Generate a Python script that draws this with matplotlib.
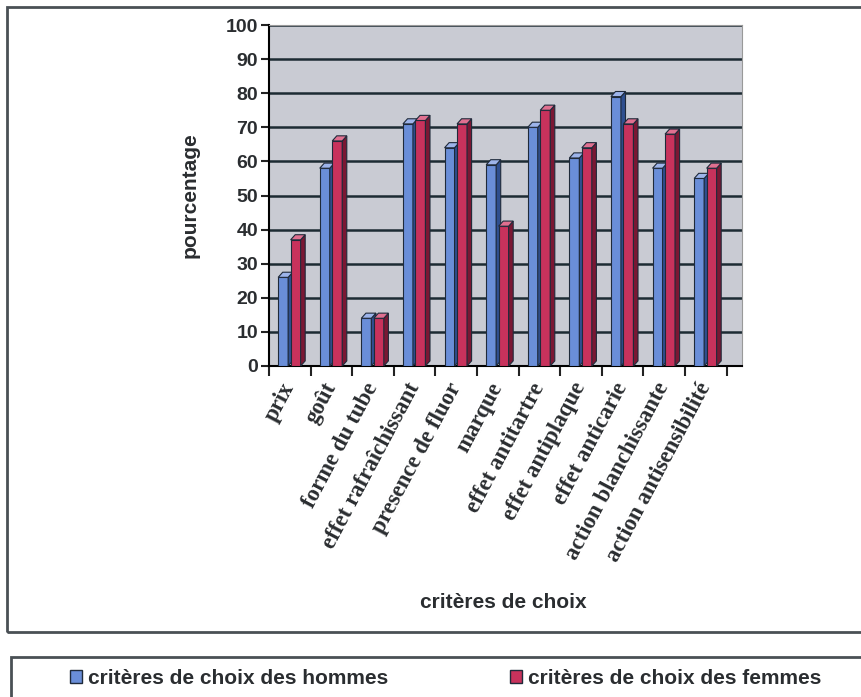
import matplotlib.pyplot as plt
import matplotlib.patches as mpatches
import numpy as np

categories = [
    "prix",
    "goût",
    "forme du tube",
    "effet rafraîchissant",
    "presence de fluor",
    "marque",
    "effet antitartre",
    "effet antiplaque",
    "effet anticarie",
    "action blanchissante",
    "action antisensibilité",
]
hommes = [26, 58, 14, 71, 64, 59, 70, 61, 79, 58, 55]
femmes = [37, 66, 14, 72, 71, 41, 75, 64, 71, 68, 58]
series_names = ["critères de choix des hommes", "critères de choix des femmes"]

TXT = "#2a2d30"


def draw_bars(ax, xs, vals, width, front, side, top):
    # bars with a small fake 3D depth, like the old office chart
    dx, dy = 0.11, 1.5
    ax.bar(xs, vals, width=width, color=front, edgecolor="#1f2a3a", linewidth=0.8, zorder=3)
    for x, v in zip(xs, vals):
        x0, x1 = x - width / 2, x + width / 2
        ax.fill([x1, x1 + dx, x1 + dx, x1], [0, dy, v + dy, v],
                color=side, edgecolor="#1f2a3a", linewidth=0.8, zorder=3)
        ax.fill([x0, x0 + dx, x1 + dx, x1], [v, v + dy, v + dy, v],
                color=top, edgecolor="#1f2a3a", linewidth=0.8, zorder=3)


def main():
    fig = plt.figure(figsize=(8.62, 6.97), dpi=100)
    fig.patch.set_facecolor("white")

    # outer frames
    fig.patches.append(mpatches.Rectangle((7 / 862, 1 - 632 / 697), 1.2, 625 / 697,
                                          transform=fig.transFigure, fill=False,
                                          edgecolor="#4a5055", linewidth=2))
    fig.patches.append(mpatches.Rectangle((11 / 862, -0.1), 1.2, 0.1 + 40 / 697,
                                          transform=fig.transFigure, fill=False,
                                          edgecolor="#4a5055", linewidth=2))

    ax = fig.add_axes([269 / 862, 331 / 697, 473 / 862, 341 / 697])
    ax.set_facecolor("#c9cbd3")

    x = np.arange(len(categories))
    w = 0.24
    draw_bars(ax, x - 0.16, hommes, w, "#6a8ed8", "#2f4f8f", "#9db4ea")
    draw_bars(ax, x + 0.14, femmes, w, "#c8325c", "#7a1733", "#e07090")

    ax.set_xlim(-0.5, 10.87)
    ax.set_ylim(0, 100)
    ax.set_yticks(range(0, 101, 10))
    ax.yaxis.grid(True, color="#1c2b33", linewidth=1.8, zorder=1)
    ax.set_axisbelow(True)

    ax.set_xticks(np.arange(-0.5, 11, 1))
    ax.set_xticklabels([])
    ax.set_xticks(x, minor=True)
    ax.set_xticklabels(categories, minor=True, rotation=62, ha="right",
                       va="center", rotation_mode="anchor",
                       fontfamily="Liberation Serif", fontweight="bold", fontsize=16.5,
                       color=TXT)
    ax.tick_params(axis="x", which="minor", length=0, pad=13)
    ax.tick_params(axis="x", which="major", length=7, width=1.5, color="#222222")
    ax.tick_params(axis="y", length=6, width=1.5, color="#222222", pad=2)
    for lab in ax.get_yticklabels():
        lab.set_fontfamily("Liberation Sans")
        lab.set_fontweight("bold")
        lab.set_fontsize(14)
        lab.set_color(TXT)

    ax.spines["left"].set_linewidth(1.5)
    ax.spines["bottom"].set_linewidth(1.5)
    ax.spines["top"].set_color("#999999")
    ax.spines["right"].set_color("#999999")

    ax.set_ylabel("pourcentage", fontfamily="Liberation Sans", fontweight="bold",
                  fontsize=15, color=TXT)
    ax.yaxis.set_label_coords(-0.147, 0.5)
    fig.text(503 / 862, 1 - 602 / 697, "critères de choix", ha="center", va="center",
             fontfamily="Liberation Sans", fontweight="bold", fontsize=15, color=TXT)

    # legend at the bottom
    handles = [mpatches.Patch(facecolor="#6a8ed8", edgecolor="#1f2a3a"),
               mpatches.Patch(facecolor="#c8325c", edgecolor="#1f2a3a")]
    leg = fig.legend(handles, series_names, loc="center left",
                     bbox_to_anchor=(51 / 862, 1 - 678 / 697), ncol=2, frameon=False,
                     prop={"family": "Liberation Sans", "weight": "bold", "size": 15},
                     handlelength=0.6, handleheight=0.6, handletextpad=0.3,
                     columnspacing=5.8)
    for t in leg.get_texts():
        t.set_color(TXT)

    fig.savefig("out.png", dpi=100)


if __name__ == "__main__":
    main()
